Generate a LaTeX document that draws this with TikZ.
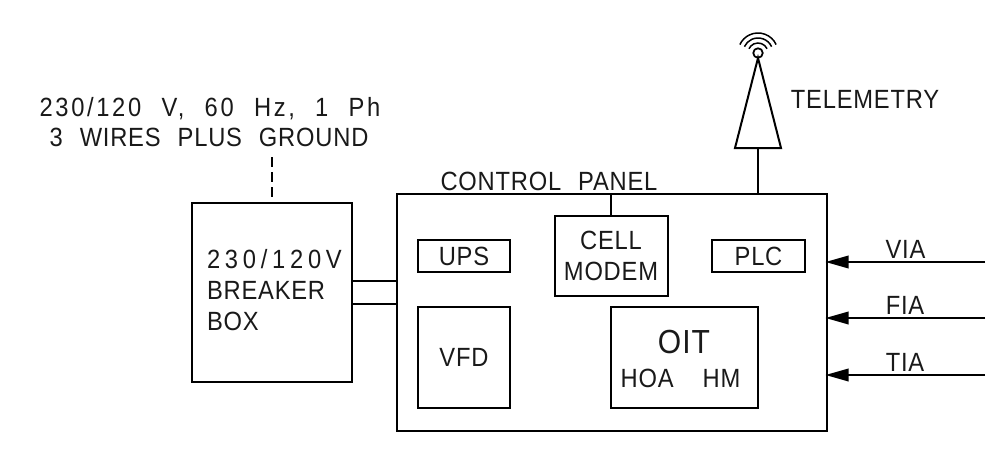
\documentclass[tikz,border=0pt]{standalone}
\usepackage{fontspec}
\setmainfont[LetterSpace=3,FakeStretch=0.9,WordSpace=2.3]{Liberation Sans}
\newfontfamily\cadwide[LetterSpace=10,FakeStretch=0.9,WordSpace=2.2]{Liberation Sans}
\newfontfamily\cadwider[LetterSpace=18,FakeStretch=0.9]{Liberation Sans}
\usetikzlibrary{arrows.meta,positioning,calc}
\tikzset{
  cadbox/.style={draw,line width=0.04cm,inner sep=0pt},
  cadwire/.style={line width=0.04cm},
  sensorline/.style={line width=0.04cm,-{Triangle[length=0.46cm,width=0.25cm]},shorten >=-0.05cm},
  cadtext/.style={font=\fontsize{15}{17.6}\selectfont,inner sep=0pt,text=black!90}
}
\begin{document}
\begin{tikzpicture}
  \useasboundingbox (0,0) rectangle (19.84,9);
  %% Boxes
  \node[cadbox,minimum width=3.2cm,minimum height=3.58cm] (breaker) at (5.44,3.15) {};
  \node[cadbox,minimum width=8.6cm,minimum height=4.74cm] (panel) at (12.24,2.75) {};
  \node[cadbox,minimum width=1.84cm,minimum height=0.64cm,cadtext] (ups) at (9.28,3.88) {UPS};
  \node[cadbox,minimum width=2.26cm,minimum height=1.6cm,align=center,cadtext]
        (modem) at (12.22,3.88) {CELL\\MODEM};
  \node[cadbox,minimum width=1.86cm,minimum height=0.64cm,cadtext] (plc) at (15.17,3.88) {PLC};
  \node[cadbox,minimum width=1.84cm,minimum height=2.02cm,cadtext] (vfd) at (9.28,1.85) {VFD};
  \node[cadbox,minimum width=2.94cm,minimum height=2.02cm] (oit) at (13.69,1.85) {};

  %% Labels
  \node[cadtext,align=left,text width=2.7cm] (breakername) at (5.49,3.2)
        {{\cadwider 230/120V}\\BREAKER\\BOX};
  \node[cadtext,font=\fontsize{19}{19}\selectfont,anchor=base] (oitname) at (13.68,1.94) {OIT};
  \node[cadtext,anchor=base] (oithoa) at (13.61,1.26) {HOA\hspace{0.58cm}HM};
  \node[cadtext,anchor=base] (panelname) at (10.98,5.2) {CONTROL PANEL};
  \node[cadtext,anchor=base] (supplytop) at (4.2,6.68) {\cadwide 230/120 V, 60 Hz, 1 Ph};
  \node[cadtext,anchor=base] (supplybot) at (4.18,6.06) {3 WIRES PLUS GROUND};
  \node[cadtext,anchor=base] (telemetry) at (17.3,6.84) {TELEMETRY};
  \node[cadtext,anchor=base] (via) at (18.11,3.84) {VIA};
  \node[cadtext,anchor=base] (fia) at (18.1,2.72) {FIA};
  \node[cadtext,anchor=base] (tia) at (18.1,1.58) {TIA};

  %% Feed and wires
  \coordinate (feedtop) at (5.44,5.86);
  \draw[cadwire,dash pattern=on 0.2cm off 0.1cm] (feedtop) -- (breaker.north);
  \coordinate (wirea) at (7.5,3.38);
  \coordinate (wireb) at (7.5,2.92);
  \draw[cadwire] (breaker.east |- wirea) -- (panel.west |- wirea);
  \draw[cadwire] (breaker.east |- wireb) -- (panel.west |- wireb);
  \draw[cadwire] (modem.north) -- (panel.north -| modem.north);

  %% Antenna
  \coordinate (apex) at (15.16,7.84);
  \coordinate (baseleft) at (14.7,6.04);
  \coordinate (baseright) at (15.62,6.04);
  \coordinate (basemid) at (15.16,6.04);
  \draw[cadwire,line join=miter] (apex) -- (baseleft) -- (baseright) -- cycle;
  \draw[cadwire] (basemid) -- (panel.north -| basemid);
  \node[draw,circle,line width=0.035cm,minimum size=0.19cm,inner sep=0pt] (dish) at (15.16,7.94) {};
  \foreach \r in {0.2,0.3,0.4}
    \draw[line width=0.03cm] ($(dish.center)+(25:\r)$) arc (25:155:\r);

  %% Field signals
  \coordinate (viaend) at (19.7,3.76);
  \coordinate (fiaend) at (19.7,2.64);
  \coordinate (tiaend) at (19.7,1.5);
  \draw[sensorline] (viaend) -- (panel.east |- viaend);
  \draw[sensorline] (fiaend) -- (panel.east |- fiaend);
  \draw[sensorline] (tiaend) -- (panel.east |- tiaend);
\end{tikzpicture}
\end{document}
